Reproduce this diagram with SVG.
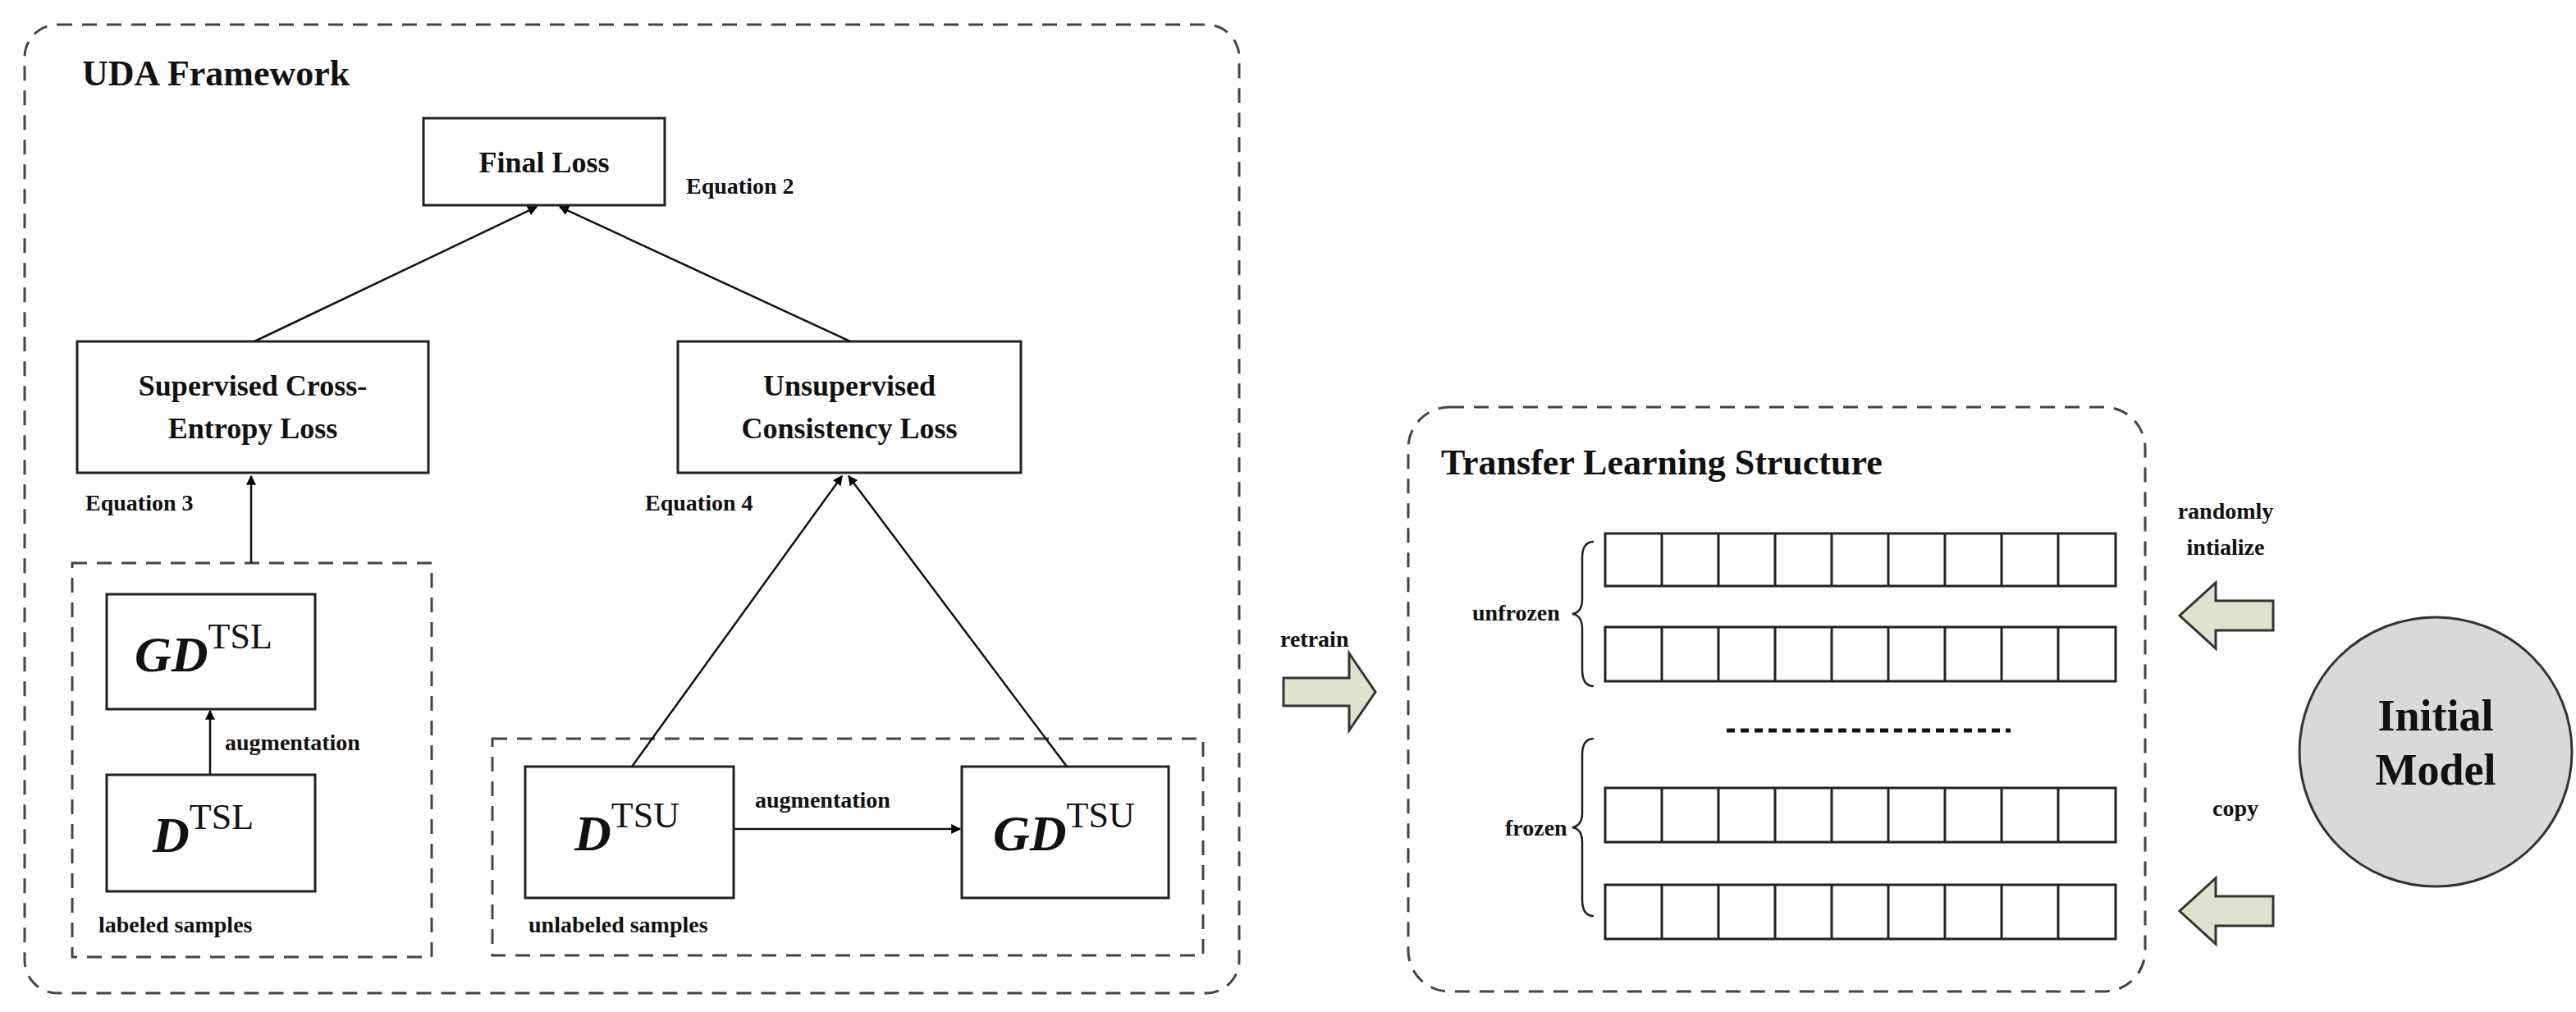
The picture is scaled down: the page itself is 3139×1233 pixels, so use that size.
<svg xmlns="http://www.w3.org/2000/svg" width="3139" height="1233" viewBox="0 0 3139 1233">
<defs>
<marker id="ah" viewBox="0 0 10 10" refX="9" refY="5" markerWidth="12" markerHeight="12" markerUnits="userSpaceOnUse" orient="auto"><path d="M0,0 L10,5 L0,10 z" fill="#000"/></marker>
<style>
text{font-family:"Liberation Serif","Times New Roman",serif;font-weight:bold;fill:#111}
.box{fill:#fff;stroke:#222;stroke-width:3}
.dash{fill:none;stroke:#444;stroke-width:3;stroke-dasharray:18 12}
.ln{stroke:#111;stroke-width:2.5;fill:none;marker-end:url(#ah)}
.cell{fill:#fff;stroke:#222;stroke-width:3}
.fat{fill:#dfe3cd;stroke:#333;stroke-width:3}
.t28{font-size:28px}
.t36{font-size:36px}
.big{font-size:62px;font-style:italic}
.sup{font-size:44px;font-style:normal;font-weight:normal}
</style>
</defs>
<rect width="3139" height="1233" fill="#fff"/>
<g id="uda-frame"><rect class="dash" x="30" y="30" width="1480" height="1180" rx="40"/><text x="100" y="104" font-size="44">UDA Framework</text></g>
<g id="final-loss"><rect class="box" x="516" y="144" width="294" height="106"/><text class="t36" x="663" y="210" text-anchor="middle">Final Loss</text><text class="t28" x="836" y="236">Equation 2</text></g>
<g id="sup-loss"><rect class="box" x="94" y="416" width="428" height="160"/><text class="t36" x="308" y="482" text-anchor="middle">Supervised Cross-</text><text class="t36" x="308" y="534" text-anchor="middle">Entropy Loss</text></g>
<g id="unsup-loss"><rect class="box" x="826" y="416" width="418" height="160"/><text class="t36" x="1035" y="482" text-anchor="middle">Unsupervised</text><text class="t36" x="1035" y="534" text-anchor="middle">Consistency Loss</text></g>
<g id="labeled"><rect class="dash" x="88" y="686" width="438" height="480"/><text class="t28" x="120" y="1136">labeled samples</text></g>
<g id="gd-tsl"><rect class="box" x="130" y="724" width="254" height="140"/><text class="big" x="164" y="818">GD<tspan class="sup" dy="-28">TSL</tspan></text></g>
<g id="d-tsl"><rect class="box" x="130" y="944" width="254" height="142"/><text class="big" x="186" y="1038">D<tspan class="sup" dy="-28">TSL</tspan></text></g>
<g id="unlabeled"><rect class="dash" x="600" y="900" width="866" height="264"/><text class="t28" x="644" y="1136">unlabeled samples</text></g>
<g id="d-tsu"><rect class="box" x="640" y="934" width="254" height="160"/><text class="big" x="700" y="1036">D<tspan class="sup" dy="-28">TSU</tspan></text></g>
<g id="gd-tsu"><rect class="box" x="1172" y="934" width="252" height="160"/><text class="big" x="1210" y="1036">GD<tspan class="sup" dy="-28">TSU</tspan></text></g>
<g id="connectors">
<line class="ln" x1="310" y1="416" x2="654" y2="252"/>
<line class="ln" x1="1036" y1="416" x2="682" y2="252"/>
<line class="ln" x1="306" y1="686" x2="306" y2="580"/>
<line class="ln" x1="256" y1="944" x2="256" y2="866"/>
<line class="ln" x1="770" y1="934" x2="1026" y2="580"/>
<line class="ln" x1="1300" y1="934" x2="1034" y2="580"/>
<line class="ln" x1="894" y1="1010" x2="1170" y2="1010"/>
<path class="fat" d="M1564,826 h80 v-30 l32,47 l-32,47 v-30 h-80 z"/>
<path class="fat" d="M2770,732 h-70 v-22 l-44,40 l44,40 v-22 h70 z"/>
<path class="fat" d="M2770,1092 h-70 v-22 l-44,40 l44,40 v-22 h70 z"/>
</g>
<g id="labels">
<text class="t28" x="104" y="622">Equation 3</text>
<text class="t28" x="786" y="622">Equation 4</text>
<text class="t28" x="274" y="914">augmentation</text>
<text class="t28" x="920" y="984">augmentation</text>
<text class="t28" x="1560" y="788">retrain</text>
<text class="t28" x="2712" y="632" text-anchor="middle">randomly</text>
<text class="t28" x="2712" y="676" text-anchor="middle">intialize</text>
<text class="t28" x="2724" y="994" text-anchor="middle">copy</text>
</g>
<g id="transfer">
<rect class="dash" x="1716" y="496" width="898" height="712" rx="50"/>
<text x="1756" y="578" font-size="44">Transfer Learning Structure</text>
<g id="layers">
<g id="row1"><rect class="cell" x="1956" y="650" width="622" height="64"/><path d="M2025,650v64M2094,650v64M2163,650v64M2232,650v64M2301,650v64M2370,650v64M2439,650v64M2508,650v64" stroke="#222" stroke-width="3"/></g>
<g id="row2"><rect class="cell" x="1956" y="764" width="622" height="66"/><path d="M2025,764v66M2094,764v66M2163,764v66M2232,764v66M2301,764v66M2370,764v66M2439,764v66M2508,764v66" stroke="#222" stroke-width="3"/></g>
<g id="row3"><rect class="cell" x="1956" y="960" width="622" height="66"/><path d="M2025,960v66M2094,960v66M2163,960v66M2232,960v66M2301,960v66M2370,960v66M2439,960v66M2508,960v66" stroke="#222" stroke-width="3"/></g>
<g id="row4"><rect class="cell" x="1956" y="1078" width="622" height="66"/><path d="M2025,1078v66M2094,1078v66M2163,1078v66M2232,1078v66M2301,1078v66M2370,1078v66M2439,1078v66M2508,1078v66" stroke="#222" stroke-width="3"/></g>
</g>
<line x1="2104" y1="890" x2="2450" y2="890" stroke="#111" stroke-width="5" stroke-dasharray="10 7"/>
<path d="M1942,660 q-14,0 -14,20 v50 q0,16 -12,18 q12,2 12,18 v50 q0,20 14,20" fill="none" stroke="#222" stroke-width="2.5"/>
<path d="M1942,900 q-14,0 -14,20 v70 q0,16 -12,18 q12,2 12,18 v70 q0,20 14,20" fill="none" stroke="#222" stroke-width="2.5"/>
<text class="t28" x="1794" y="756">unfrozen</text>
<text class="t28" x="1834" y="1018">frozen</text>
</g>
<g id="initial-model"><ellipse cx="2968" cy="916" rx="166" ry="164" fill="#d9d9d9" stroke="#333" stroke-width="3"/><text x="2968" y="890" font-size="54" text-anchor="middle">Initial</text><text x="2968" y="956" font-size="54" text-anchor="middle">Model</text></g>
</svg>
